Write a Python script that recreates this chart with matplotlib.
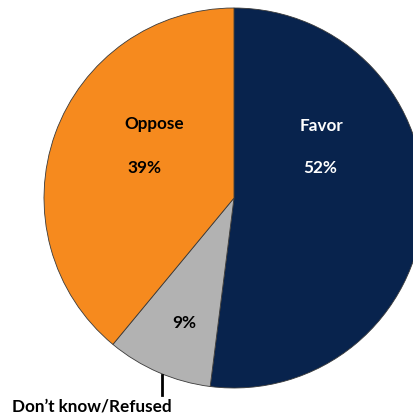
import matplotlib.pyplot as plt

plt.rcParams['font.family'] = ['Lato', 'DejaVu Sans']

labels = ["Favor", "Don\u2019t know/Refused", "Oppose"]
shares = [52, 9, 39]
colors = ["#08234D", "#B2B2B2", "#F68A1E"]

W, H = 414, 415
fig = plt.figure(figsize=(W / 100, H / 100), dpi=100)
ax = fig.add_axes([0, 0, 1, 1])

cx, cy, r = 234, H - 198, 190
ax.pie(shares, colors=colors, startangle=90, counterclock=False,
       center=(cx, cy), radius=r,
       wedgeprops=dict(edgecolor="#3a3a3a", linewidth=0.6))
ax.set_xlim(0, W)
ax.set_ylim(0, H)
ax.set_aspect('equal')
ax.axis('off')

fs = 12.3
# Favor
ax.text(322, H - 126, labels[0], color="white", fontsize=fs, fontweight="bold", ha="center", va="center")
ax.text(320, H - 168, f"{shares[0]}%", color="white", fontsize=fs, fontweight="bold", ha="center", va="center")
# Oppose
ax.text(154, H - 124, labels[2], color="black", fontsize=fs, fontweight="bold", ha="center", va="center")
ax.text(144, H - 168, f"{shares[2]}%", color="black", fontsize=fs, fontweight="bold", ha="center", va="center")
# Don't know
ax.text(184, H - 323, f"{shares[1]}%", color="black", fontsize=fs, fontweight="bold", ha="center", va="center")
ax.plot([162, 162], [H - 375, H - 395], color="black", linewidth=2)
ax.text(92, H - 406, labels[1], color="black", fontsize=fs, fontweight="bold", ha="center", va="center")

fig.savefig("out.png", dpi=100)
